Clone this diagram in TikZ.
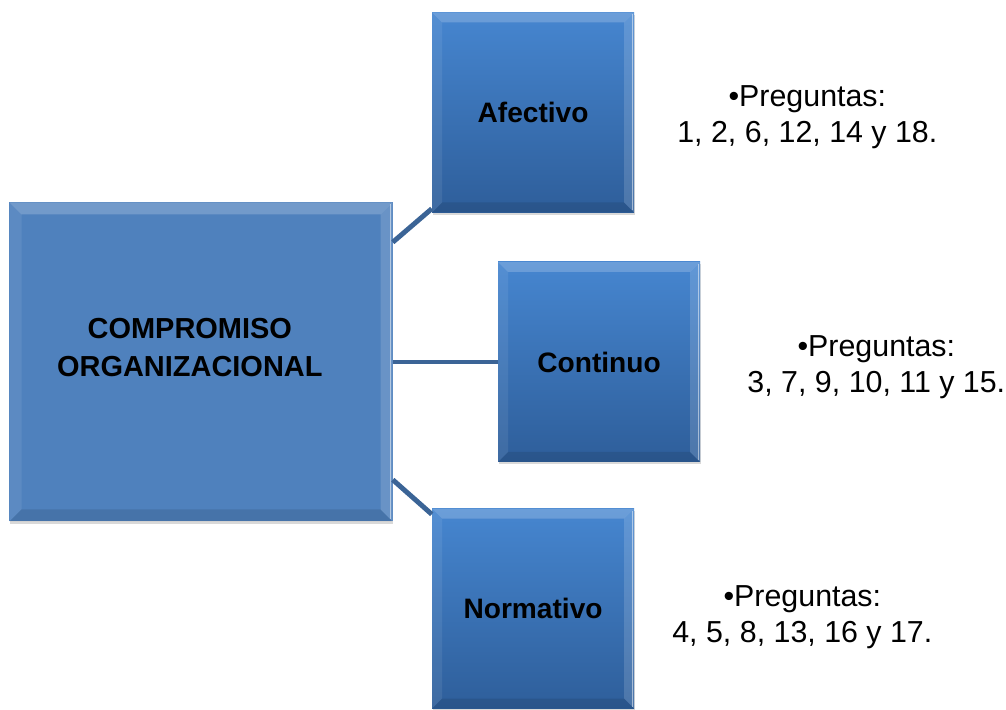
\documentclass[tikz,border=0pt]{standalone}
\usepackage{fontspec}
\setmainfont{Liberation Sans}
\usetikzlibrary{positioning,shadows,calc}

\definecolor{mainblue}{RGB}{79,129,189}
\definecolor{subtop}{RGB}{70,134,208}
\definecolor{subbottom}{RGB}{46,94,154}
\definecolor{linkblue}{RGB}{59,100,150}

\begin{document}
\begin{tikzpicture}[
            bevel/.style={path picture={
                \coordinate (nw) at (path picture bounding box.north west);
                \coordinate (ne) at (path picture bounding box.north east);
                \coordinate (sw) at (path picture bounding box.south west);
                \coordinate (se) at (path picture bounding box.south east);
                \fill[white, opacity=0.2] (nw) -- (ne) -- ($(ne)+(-#1,-#1)$) -- ($(nw)+(#1,-#1)$) -- cycle;
                \fill[white, opacity=0.08] (nw) -- (sw) -- ($(sw)+(#1,#1)$) -- ($(nw)+(#1,-#1)$) -- cycle;
                \fill[black, opacity=0.1] (sw) -- (se) -- ($(se)+(-#1,#1)$) -- ($(sw)+(#1,#1)$) -- cycle;
                \fill[white, opacity=0.15] (ne) -- (se) -- ($(se)+(-#1,#1)$) -- ($(ne)+(-#1,-#1)$) -- cycle;
                \draw[white, opacity=0.5, line width=0.8pt] ($(ne)+(-0.05,-0.05)$) -- ($(se)+(-0.05,0.05)$);
            }},
            mainbox/.style={rectangle, fill=mainblue, minimum width=9.575cm, minimum height=7.975cm,
                bevel=0.3cm, drop shadow={opacity=0.3, shadow xshift=0.4pt, shadow yshift=-1.5pt}},
            boxtext/.style={align=center, font=\fontsize{20.6}{27}\selectfont\bfseries},
            subbox/.style={rectangle, top color=subtop, bottom color=subbottom, minimum width=5.05cm, minimum height=5cm,
                align=center, font=\fontsize{20}{27}\selectfont\bfseries, bevel=0.25cm,
                drop shadow={opacity=0.3, shadow xshift=0.4pt, shadow yshift=-1.5pt}},
            items/.style={align=center, font=\fontsize{21.6}{25.5}\selectfont},
            link/.style={draw=linkblue, line width=3.5pt}
        ]
            \useasboundingbox (0,0) rectangle (25.15,17.725);

            % Nodes
            \node[mainbox] (comp) at (5.025,8.675) {};
            \node[boxtext] (comptext) at ($(comp)+(-0.28,0.35)$) {COMPROMISO\\ORGANIZACIONAL};
            \node[subbox, right=2.625cm of comp] (cont) {Continuo};
            \node[subbox, above=1.225cm of cont, xshift=-1.65cm] (afect) {Afectivo};
            \node[subbox, below=1.15cm of cont, xshift=-1.65cm] (norm) {Normativo};

            % Links
            \draw[link] ([yshift=-1cm]comp.north east) -- ([yshift=0.1cm]afect.south west);
            \draw[link] (comp.east) -- (cont.west);
            \draw[link] ([yshift=1.05cm]comp.south east) -- ([yshift=-0.15cm]norm.north west);

            % Questions
            \node[items] (qafect) at ($(afect.east)+(4.325,-0.12)$) {•Preguntas:\\1, 2, 6, 12, 14 y 18.};
            \node[items] (qcont) at ($(cont.east)+(4.4,-0.13)$) {•Preguntas:\\3, 7, 9, 10, 11 y 15.};
            \node[items] (qnorm) at ($(norm.east)+(4.2,-0.22)$) {•Preguntas:\\4, 5, 8, 13, 16 y 17.};
        \end{tikzpicture}
\end{document}
